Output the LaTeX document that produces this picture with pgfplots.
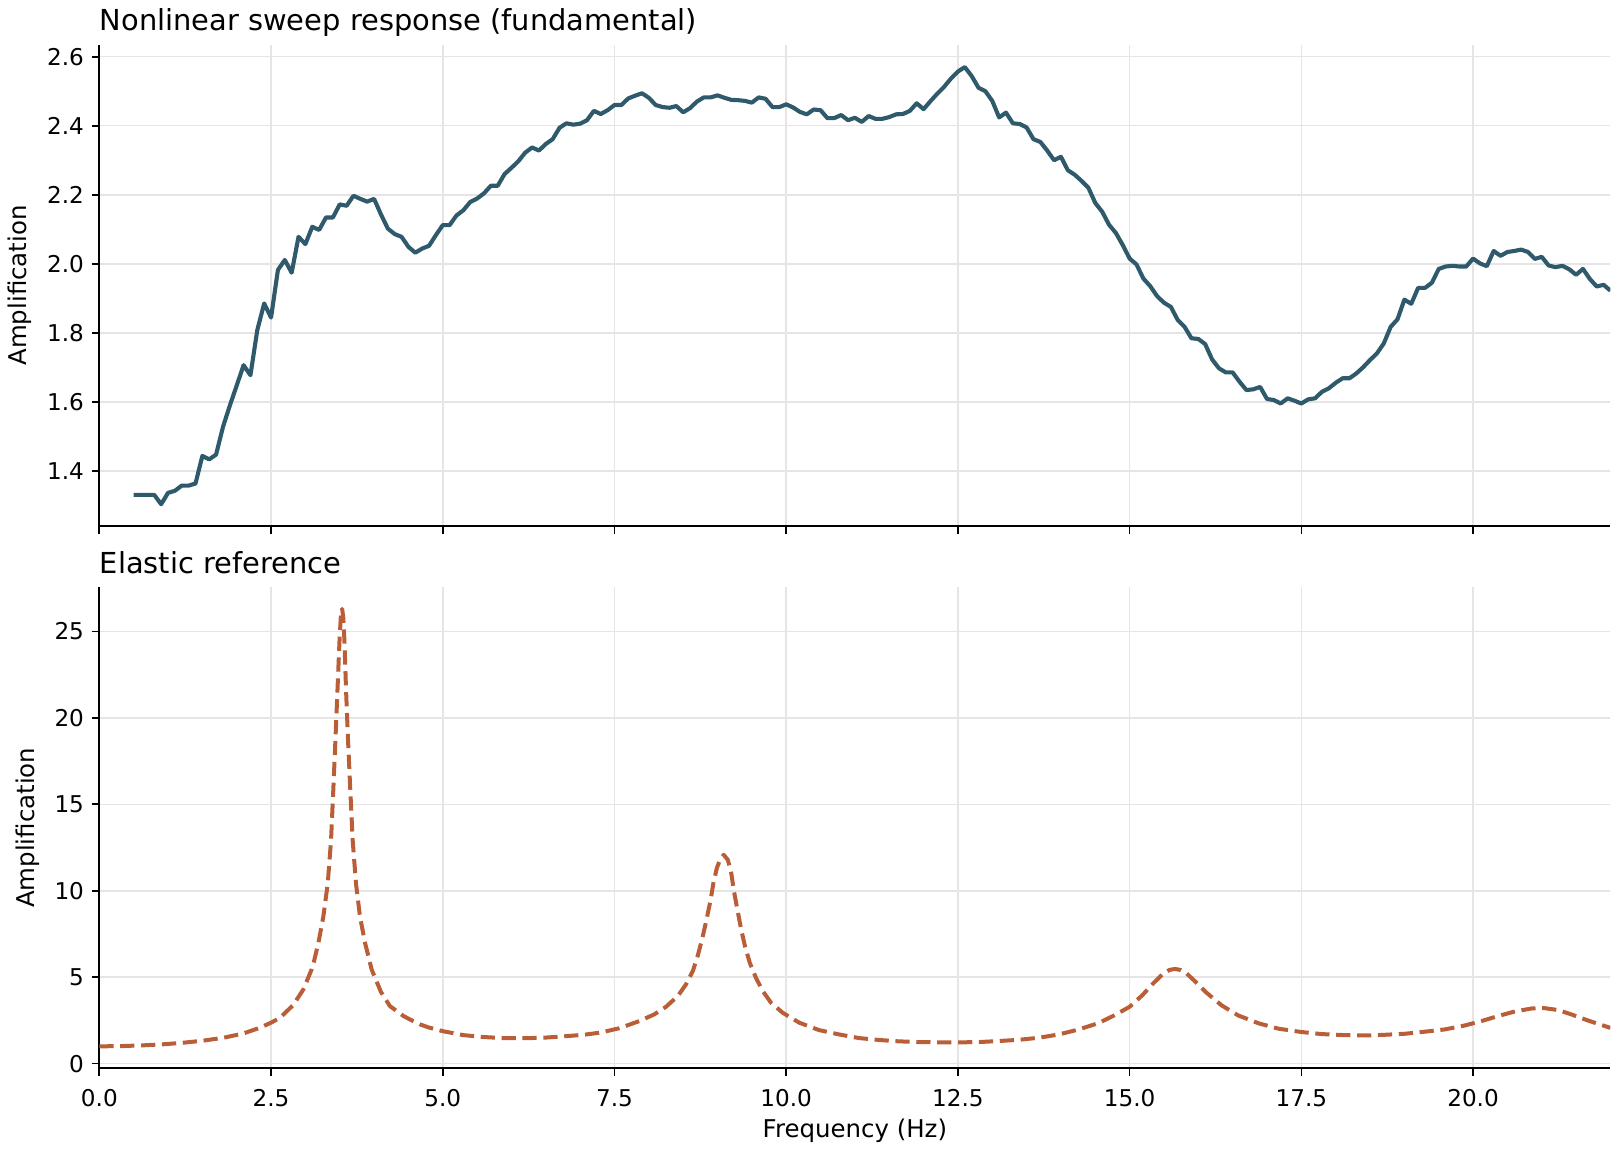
\documentclass[border=0pt]{standalone}
\usepackage{fontspec}
\setmainfont{DejaVu Sans}
\usepackage{pgfplots}
\pgfplotsset{compat=1.18}
\definecolor{topc}{RGB}{46,90,108}
\definecolor{botc}{RGB}{186,94,56}
\pgfplotsset{
  common/.style={
    scale only axis, width=680pt, height=216.45pt,
    xmin=0, xmax=22, enlargelimits=false,
    axis lines=left, axis line style={-, line width=0.75pt, black},
    tick align=outside, major tick length=3.4pt,
    tick style={line width=0.75pt, black},
    xtick={0,2.5,5,7.5,10,12.5,15,17.5,20},
    grid=major, major grid style={line width=0.7pt, black!10},
    ticklabel style={font=\fontsize{10.4}{12}\selectfont},
    /pgf/number format/assume math mode=true,
    label style={font=\fontsize{11}{13}\selectfont},
    title style={font=\fontsize{13}{15}\selectfont, at={(0,1)}, anchor=base west, yshift=0.4pt, inner sep=0pt},
    ylabel={Amplification},
  }
}
\begin{document}
\begin{tikzpicture}
\useasboundingbox (0,0) rectangle (729pt,518.4pt);
\begin{axis}[common, at={(44.7pt,498.15pt)}, anchor=north west,
  ymin=1.24, ymax=2.634,
  ytick={1.4,1.6,1.8,2.0,2.2,2.4,2.6},
  yticklabel style={/pgf/number format/.cd, fixed, fixed zerofill, precision=1},
  xticklabels={},
  title={Nonlinear sweep response (fundamental)}]
\addplot[topc, line width=1.85pt, line join=round] table {
0.5 1.330
0.6 1.330
0.7 1.330
0.8 1.330
0.9 1.303
1.0 1.336
1.1 1.342
1.2 1.357
1.3 1.357
1.4 1.363
1.5 1.443
1.6 1.433
1.7 1.447
1.8 1.527
1.9 1.589
2.0 1.647
2.1 1.706
2.2 1.677
2.3 1.808
2.4 1.885
2.5 1.844
2.6 1.982
2.7 2.011
2.8 1.974
2.9 2.078
3.0 2.057
3.1 2.107
3.2 2.098
3.3 2.134
3.4 2.134
3.5 2.172
3.6 2.168
3.7 2.197
3.8 2.188
3.9 2.180
4.0 2.188
4.1 2.143
4.2 2.102
4.3 2.086
4.4 2.078
4.5 2.049
4.6 2.032
4.7 2.044
4.8 2.052
4.9 2.083
5.0 2.112
5.1 2.112
5.2 2.140
5.3 2.155
5.4 2.179
5.5 2.189
5.6 2.204
5.7 2.226
5.8 2.226
5.9 2.260
6.0 2.278
6.1 2.297
6.2 2.322
6.3 2.337
6.4 2.328
6.5 2.347
6.6 2.361
6.7 2.394
6.8 2.407
6.9 2.403
7.0 2.406
7.1 2.416
7.2 2.443
7.3 2.434
7.4 2.445
7.5 2.460
7.6 2.460
7.7 2.479
7.8 2.487
7.9 2.494
8.0 2.481
8.1 2.460
8.2 2.454
8.3 2.452
8.4 2.457
8.5 2.439
8.6 2.451
8.7 2.470
8.8 2.482
8.9 2.482
9.0 2.488
9.1 2.481
9.2 2.475
9.3 2.474
9.4 2.472
9.5 2.467
9.6 2.482
9.7 2.478
9.8 2.454
9.9 2.454
10.0 2.462
10.1 2.453
10.2 2.440
10.3 2.433
10.4 2.447
10.5 2.445
10.6 2.422
10.7 2.422
10.8 2.431
10.9 2.416
11.0 2.423
11.1 2.411
11.2 2.428
11.3 2.420
11.4 2.420
11.5 2.425
11.6 2.433
11.7 2.434
11.8 2.443
11.9 2.465
12.0 2.448
12.1 2.471
12.2 2.493
12.3 2.513
12.4 2.537
12.5 2.557
12.6 2.570
12.7 2.544
12.8 2.510
12.9 2.500
13.0 2.472
13.1 2.424
13.2 2.438
13.3 2.407
13.4 2.405
13.5 2.395
13.6 2.361
13.7 2.353
13.8 2.328
13.9 2.300
14.0 2.310
14.1 2.271
14.2 2.258
14.3 2.240
14.4 2.220
14.5 2.176
14.6 2.151
14.7 2.113
14.8 2.089
14.9 2.054
15.0 2.015
15.1 1.998
15.2 1.957
15.3 1.935
15.4 1.906
15.5 1.887
15.6 1.875
15.7 1.837
15.8 1.817
15.9 1.784
16.0 1.782
16.1 1.767
16.2 1.723
16.3 1.697
16.4 1.685
16.5 1.685
16.6 1.658
16.7 1.634
16.8 1.636
16.9 1.643
17.0 1.608
17.1 1.605
17.2 1.595
17.3 1.610
17.4 1.603
17.5 1.595
17.6 1.607
17.7 1.610
17.8 1.629
17.9 1.639
18.0 1.655
18.1 1.668
18.2 1.668
18.3 1.682
18.4 1.700
18.5 1.721
18.6 1.740
18.7 1.769
18.8 1.817
18.9 1.839
19.0 1.896
19.1 1.884
19.2 1.930
19.3 1.930
19.4 1.945
19.5 1.985
19.6 1.992
19.7 1.994
19.8 1.992
19.9 1.992
20.0 2.015
20.1 2.001
20.2 1.993
20.3 2.037
20.4 2.023
20.5 2.034
20.6 2.037
20.7 2.041
20.8 2.034
20.9 2.014
21.0 2.020
21.1 1.995
21.2 1.990
21.3 1.994
21.4 1.984
21.5 1.968
21.6 1.985
21.7 1.956
21.8 1.934
21.9 1.939
22.0 1.922
};
\end{axis}
\begin{axis}[common, at={(44.7pt,254.1pt)}, anchor=north west,
  ymin=-0.27, ymax=27.55,
  ytick={0,5,10,15,20,25},
  xticklabel style={yshift=-2.5pt, /pgf/number format/.cd, fixed, fixed zerofill, precision=1},
  xlabel={Frequency (Hz)},
  xlabel style={yshift=1.2pt},
  title={Elastic reference}]
\addplot[botc, line width=1.8pt, line join=round, dash pattern=on 6.4pt off 3.0pt] table {
0.00 1.00
0.35 1.02
0.64 1.06
0.93 1.12
1.22 1.21
1.51 1.33
1.81 1.50
2.10 1.75
2.34 2.08
2.50 2.37
2.63 2.65
2.82 3.38
2.97 4.29
3.04 4.96
3.09 5.44
3.12 5.83
3.19 7.00
3.261 8.50
3.325 10.40
3.373 12.90
3.406 15.80
3.437 18.70
3.467 21.60
3.497 24.50
3.515 25.80
3.535 26.30
3.552 25.80
3.568 24.50
3.592 21.60
3.621 18.70
3.654 15.80
3.689 12.90
3.737 10.40
3.795 8.50
3.868 7.00
3.965 5.44
4.10 4.15
4.23 3.33
4.30 3.13
4.43 2.75
4.57 2.46
4.67 2.27
4.79 2.10
5.00 1.88
5.30 1.65
5.59 1.54
5.88 1.48
6.17 1.47
6.47 1.50
6.76 1.58
7.05 1.67
7.30 1.80
7.57 2.05
7.86 2.46
8.08 2.85
8.25 3.29
8.42 3.90
8.54 4.58
8.64 5.35
8.71 6.21
8.78 7.27
8.84 8.33
8.90 9.48
8.94 10.44
8.99 11.31
9.04 11.83
9.09 12.08
9.15 11.79
9.20 11.02
9.24 9.96
9.29 8.90
9.34 7.85
9.40 6.79
9.47 5.83
9.56 4.96
9.66 4.19
9.78 3.52
9.95 2.94
10.19 2.37
10.48 1.94
10.77 1.69
11.06 1.48
11.35 1.37
11.64 1.29
11.93 1.25
12.22 1.23
12.51 1.23
12.81 1.25
13.10 1.31
13.39 1.38
13.68 1.50
13.97 1.69
14.26 1.98
14.55 2.35
14.78 2.80
15.00 3.29
15.18 3.94
15.35 4.67
15.49 5.21
15.58 5.42
15.66 5.48
15.74 5.42
15.81 5.29
15.95 4.77
16.12 4.10
16.34 3.37
16.58 2.79
16.88 2.33
17.17 2.02
17.50 1.83
17.80 1.71
18.13 1.65
18.43 1.63
18.72 1.67
19.01 1.73
19.30 1.85
19.59 1.98
19.88 2.21
20.12 2.46
20.36 2.75
20.61 3.02
20.85 3.19
21.04 3.21
21.24 3.10
21.43 2.85
21.67 2.50
21.96 2.12
22.00 2.07
};
\end{axis}
\end{tikzpicture}
\end{document}
